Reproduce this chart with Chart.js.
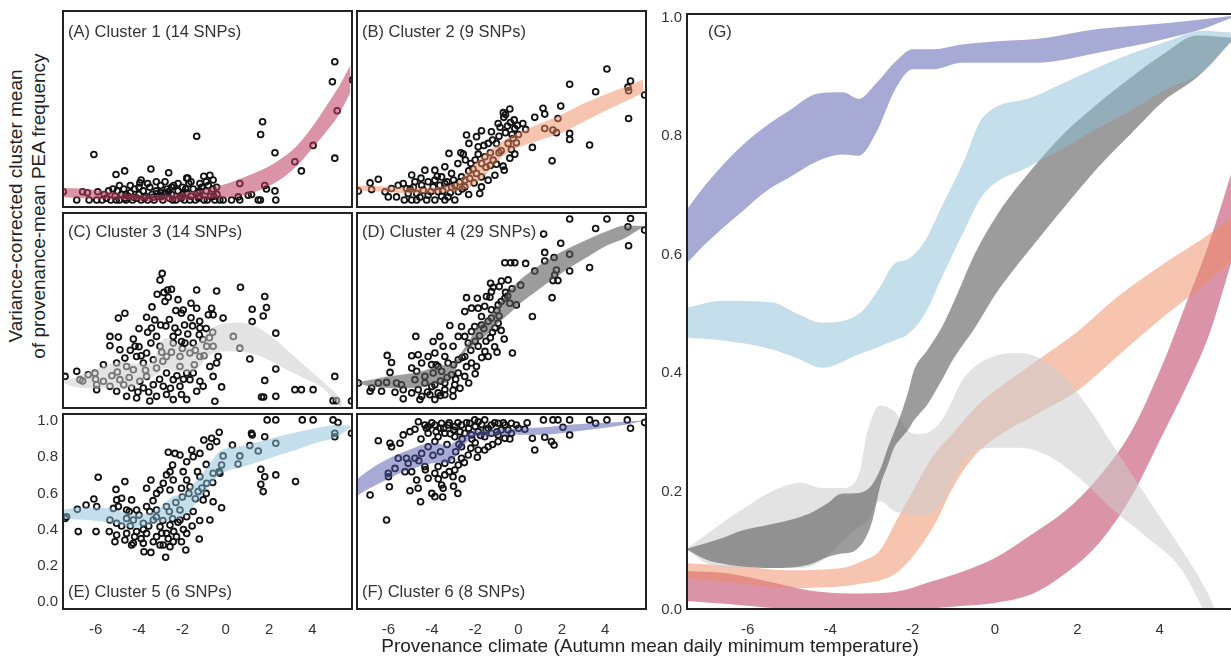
<!DOCTYPE html>
<html>
<head>
<meta charset="utf-8">
<script src="https://cdn.jsdelivr.net/npm/chart.js@4.4.0/dist/chart.umd.min.js"></script>
<style>
  body { margin:0; background:#fff; width:1231px; height:656px; position:relative; overflow:hidden; font-family:"Liberation Sans", Arial, sans-serif; }
  canvas { position:absolute; }
  .lbl { position:absolute; font-size:16.5px; color:#333; white-space:nowrap; line-height:1; }
  .ttl { position:absolute; font-size:19px; color:#222; white-space:nowrap; line-height:1; }
</style>
</head>
<body>
<canvas id="pA"></canvas>
<canvas id="pB"></canvas>
<canvas id="pC"></canvas>
<canvas id="pD"></canvas>
<canvas id="pE"></canvas>
<canvas id="pF"></canvas>
<canvas id="pG"></canvas>

<div class="lbl" style="left:68px;top:23px">(A) Cluster 1 (14 SNPs)</div>
<div class="lbl" style="left:362px;top:23px">(B) Cluster 2 (9 SNPs)</div>
<div class="lbl" style="left:68px;top:223px">(C) Cluster 3 (14 SNPs)</div>
<div class="lbl" style="left:362px;top:223px">(D) Cluster 4 (29 SNPs)</div>
<div class="lbl" style="left:68px;top:583px">(E) Cluster 5 (6 SNPs)</div>
<div class="lbl" style="left:362px;top:583px">(F) Cluster 6 (8 SNPs)</div>
<div class="lbl" style="left:708px;top:23px">(G)</div>

<div class="ttl" style="left:15px;top:206px;transform:translate(-50%,-50%) rotate(-90deg)">Variance-corrected cluster mean</div>
<div class="ttl" style="left:38px;top:206px;transform:translate(-50%,-50%) rotate(-90deg)">of provenance-mean PEA frequency</div>
<div class="ttl" style="left:650px;top:645px;transform:translate(-50%,-50%)">Provenance climate (Autumn mean daily minimum temperature)</div>

<script>
// tick labels
const xTicks = [-6, -4, -2, 0, 2, 4];
const yTicks = [0, 0.2, 0.4, 0.6, 0.8, 1.0];

// fitted bands (upper / lower edge), one per cluster
const band1x  = [-7.5, -6.5, -5.5, -4.5, -3.5, -2.5, -1.5, -0.75, 0, 0.9, 1.7, 2.5, 3.3, 4.1, 4.6, 5.2, 5.75];
const band1up = [0.066, 0.062, 0.048, 0.033, 0.028, 0.03, 0.049, 0.066, 0.088, 0.128, 0.167, 0.223, 0.30, 0.42, 0.51, 0.62, 0.74];
const band1lo = [0.015, 0.01, 0.004, 0.0, -0.005, -0.005, 0.003, 0.007, 0.012, 0.027, 0.061, 0.111, 0.19, 0.30, 0.37, 0.465, 0.59];

const band2x  = [-7.5, -6.2, -5, -3.7, -3.2, -2.8, -2.4, -2.0, -1.5, -1.0, -0.5, 0, 1, 2, 3, 4, 5, 5.75];
const band2up = [0.079, 0.074, 0.067, 0.071, 0.083, 0.10, 0.15, 0.20, 0.26, 0.30, 0.34, 0.37, 0.42, 0.47, 0.53, 0.58, 0.625, 0.662];
const band2lo = [0.054, 0.045, 0.037, 0.04, 0.045, 0.05, 0.062, 0.09, 0.14, 0.21, 0.26, 0.29, 0.33, 0.37, 0.43, 0.49, 0.545, 0.59];

const band3x  = [-7.5, -7, -6.2, -5.4, -4.7, -4.2, -3.7, -3.3, -3.1, -2.8, -2.45, -2.1, -1.8, -1.3, -0.75, 0, 0.6, 1.3, 2.1, 2.9, 3.7, 4.5, 5.1, 5.35];
const band3up = [0.103, 0.128, 0.167, 0.201, 0.215, 0.206, 0.206, 0.23, 0.30, 0.345, 0.336, 0.302, 0.297, 0.319, 0.392, 0.429, 0.434, 0.416, 0.358, 0.274, 0.189, 0.105, 0.037, 0.0];
const band3lo = [0.103, 0.079, 0.071, 0.071, 0.071, 0.083, 0.117, 0.14, 0.15, 0.184, 0.167, 0.162, 0.159, 0.18, 0.252, 0.274, 0.274, 0.26, 0.22, 0.167, 0.122, 0.071, -0.005, -0.04];

const band4x  = [-7.5, -7, -6.6, -6.2, -5.4, -4.5, -4.05, -3.75, -3.4, -3.0, -2.77, -2.6, -2.45, -2.28, -2.1, -1.97, -1.63, -1.3, -1.0, -0.5, 0.07, 0.87, 1.67, 2.5, 3.3, 4.1, 4.9, 5.75];
const band4up = [0.103, 0.113, 0.122, 0.133, 0.145, 0.163, 0.181, 0.196, 0.197, 0.21, 0.24, 0.274, 0.30, 0.331, 0.37, 0.404, 0.44, 0.476, 0.52, 0.60, 0.669, 0.742, 0.804, 0.855, 0.899, 0.939, 0.97, 0.966];
const band4lo = [0.103, 0.085, 0.078, 0.074, 0.071, 0.077, 0.09, 0.095, 0.10, 0.145, 0.213, 0.245, 0.274, 0.29, 0.305, 0.32, 0.348, 0.387, 0.425, 0.475, 0.539, 0.611, 0.679, 0.747, 0.804, 0.86, 0.899, 0.961];

const band5x  = [-7.5, -6.6, -5.4, -4.8, -4.2, -3.3, -2.8, -2.45, -2.1, -1.7, -1.3, -0.75, -0.3, 0.87, 1.67, 2.5, 3.3, 4.1, 5.07, 5.75];
const band5up = [0.51, 0.522, 0.519, 0.50, 0.485, 0.50, 0.544, 0.584, 0.593, 0.623, 0.68, 0.758, 0.831, 0.865, 0.89, 0.916, 0.939, 0.958, 0.978, 0.975];
const band5lo = [0.46, 0.455, 0.44, 0.425, 0.409, 0.432, 0.445, 0.455, 0.466, 0.50, 0.56, 0.64, 0.70, 0.75, 0.78, 0.814, 0.843, 0.877, 0.91, 0.961];

const band6x  = [-7.5, -7, -6.2, -5.5, -5, -4.3, -3.7, -3.3, -2.9, -2.4, -2, -1.5, -0.8, 0, 1, 2.5, 4, 5, 5.75];
const band6up = [0.674, 0.72, 0.78, 0.82, 0.843, 0.872, 0.874, 0.863, 0.888, 0.927, 0.947, 0.947, 0.955, 0.96, 0.964, 0.981, 0.99, 0.997, 1.003];
const band6lo = [0.584, 0.62, 0.669, 0.71, 0.73, 0.758, 0.769, 0.767, 0.804, 0.882, 0.913, 0.913, 0.924, 0.924, 0.924, 0.941, 0.962, 0.98, 1.0];

// provenance points per cluster [climate, frequency]
const ptsA = [[5.03,0.76],[4.92,0.65],[5.14,0.49],[5.03,0.23],[4.03,0.30],[3.19,0.21],[3.49,0.16],[2.27,0.26],[1.70,0.43],[1.61,0.36],
  [-1.34,0.35],[-6.08,0.25],[-3.45,0.17],[-5.06,0.14],[-4.66,0.16],[-2.63,0.15],[0.65,0.09],[1.80,0.08],[1.88,0.06],[2.27,0.05],
  [2.31,0.0],[5.85,0.66],[1.04,0.026],[0.58,0.017],[-7.49,0.045],[-6.87,0.0],[-6.38,0.04],[-6.6,0.045],[-5.9,0.045],[-5.95,0.0],
  [-3.96,0.094],[-3.9,0.11],[-1.8,0.12],[-1.75,0.12],[-1.01,0.13],[-0.73,0.136],[-0.58,0.11],[-1.19,0.09],[-0.42,0.07],[-0.27,0.0],
  [0.27,0.0],[0.65,0.0],[1.5,0.0],[1.6,0.0],[1.19,0.03],[-0.12,0.0],[-6.3,0.0],[-5.7,0.0],[-5.5,0.01],[-5.3,0.0],
  [-5.1,0.02],[-5.0,0.05],[-4.9,0.0],[-4.8,0.03],[-4.7,0.06],[-4.6,0.0],[-4.5,0.02],[-4.4,0.04],[-4.3,0.0],[-4.2,0.06],
  [-4.1,0.01],[-4.0,0.03],[-3.9,0.0],[-3.8,0.05],[-3.7,0.02],[-3.6,0.0],[-3.5,0.07],[-3.4,0.03],[-3.3,0.0],[-3.2,0.05],
  [-3.1,0.02],[-3.0,0.08],[-2.9,0.0],[-2.8,0.04],[-2.7,0.06],[-2.6,0.01],[-2.5,0.03],[-2.4,0.08],[-2.3,0.0],[-2.2,0.05],
  [-2.1,0.02],[-2.0,0.07],[-1.9,0.0],[-1.8,0.04],[-1.7,0.09],[-1.6,0.02],[-1.5,0.06],[-1.4,0.0],[-1.3,0.04],[-1.2,0.02],
  [-1.1,0.07],[-1.0,0.0],[-0.9,0.05],[-0.8,0.08],[-0.7,0.02],[-0.6,0.06],[-0.5,0.0],[-0.4,0.03],[-5.2,0.06],[-4.9,0.08],
  [-4.4,0.08],[-3.6,0.09],[-3.2,0.1],[-2.8,0.1],[-2.2,0.09],[-1.6,0.1],[-0.9,0.1],[-4.0,0.07],[-2.5,0.07],[-3.0,0.04],
  [-2.0,0.03],[-1.2,0.05],[-4.6,0.03],[-5.6,0.03],[-5.4,0.05],[-3.75,0.01],[-3.35,0.015],[-2.95,0.02],[-2.45,0.0],[-2.05,0.01],
  [-1.65,0.0],[-1.25,0.01],[-0.85,0.0],[-0.55,0.02],[-4.25,0.015],[-4.65,0.01],[-5.05,0.0],[-3.15,0.035],[-2.65,0.045],[-1.85,0.06]];

const ptsB = [[4.08,0.72],[2.36,0.636],[5.17,0.654],[5.05,0.62],[5.08,0.6],[5.82,0.577],[3.56,0.595],[5.08,0.448],[1.95,0.516],[1.13,0.504],
  [1.21,0.472],[0.75,0.454],[1.82,0.448],[0.33,0.388],[1.21,0.393],[1.59,0.384],[1.75,0.37],[2.36,0.366],[2.36,0.333],[3.28,0.302],
  [0.64,0.289],[1.55,0.215],[-0.17,0.393],[-0.68,0.454],[-0.37,0.426],[-0.94,0.42],[-0.51,0.406],[-1.25,0.375],[-1.71,0.38],[-2.4,0.357],
  [-1.94,0.348],[-0.25,0.338],[-0.1,0.314],[-0.48,0.311],[-1.02,0.311],[-1.4,0.311],[-1.86,0.292],[-2.29,0.311],[-2.66,0.259],[-2.55,0.252],
  [-3.21,0.256],[-1.86,0.252],[-1.55,0.237],[-1.17,0.219],[-1.02,0.197],[-0.71,0.186],[-0.66,0.164],[-0.17,0.252],[-0.33,0.278],[-3.4,0.182],
  [-3.86,0.164],[-4.32,0.164],[-3.09,0.146],[-3.55,0.127],[-2.63,0.127],[-2.25,0.118],[-1.94,0.146],[-1.71,0.127],[-1.4,0.109],[-1.09,0.136],
  [-2.05,0.094],[-2.48,0.072],[-1.71,0.072],[-1.79,0.035],[-6.85,0.094],[-6.47,0.114],[-7.39,0.05],[-6.78,0.057],[-6.01,0.017],[-5.63,0.017],
  [-5.27,0.0],[-4.93,0.0],[-4.7,0.0],[-4.24,0.0],[-3.86,0.0],[-3.4,0.0],[-2.94,0.0],[-5.55,0.081],[-5.32,0.09],[-4.93,0.137],
  [-4.78,0.1],[-4.47,0.081],[-4.17,0.1],[-3.86,0.109],[-3.4,0.09],[-3.09,0.072],[-2.78,0.045],[-4.7,0.035],[-4.17,0.026],[-3.71,0.045],
  [-3.25,0.017],[-6.16,0.045],[-5.86,0.063],[-5.17,0.063],[-5.09,0.035],[-4.4,0.054],[-3.94,0.072],[-3.63,0.081],[-2.94,0.081],[-2.71,0.1],
  [-2.48,0.109],[-2.2,0.2],[-2.0,0.22],[-1.6,0.3],[-1.3,0.26],[-0.9,0.35],[-0.6,0.37],[-0.3,0.36],[-0.8,0.27],[-1.5,0.18],
  [-2.3,0.16],[-2.8,0.2],[-3.0,0.11],[-3.5,0.05],[-4.5,0.12],[-5.0,0.06],[0.2,0.42],[0.0,0.36],[-0.2,0.44],[-0.4,0.5],
  [-0.7,0.48],[-0.6,0.47],[-4.55,0.015],[-4.05,0.045],[-3.55,0.02],[-3.15,0.04],[-2.6,0.06],[-2.3,0.03],[-4.85,0.07],[-3.75,0.13],
  [-2.1,0.17],[-1.3,0.19],[-0.9,0.26],[-1.2,0.33],[-0.4,0.23],[-1.7,0.2],[-2.45,0.22],[-0.85,0.4],[-0.05,0.41],[-3.3,0.1]];

const ptsC = [[-2.93,0.705],[-3.03,0.668],[-3.16,0.59],[-2.85,0.6],[-2.68,0.613],[-2.5,0.617],[-2.65,0.573],[-1.34,0.613],[-0.42,0.608],[0.68,0.628],
  [1.8,0.577],[1.88,0.516],[1.22,0.507],[1.73,0.47],[1.22,0.439],[2.31,0.375],[1.11,0.232],[2.31,0.177],[1.8,0.114],[-0.19,0.078],
  [5.03,0.136],[3.19,0.063],[3.49,0.063],[4.03,0.063],[1.65,0.022],[1.75,0.022],[2.31,0.026],[4.95,0.002],[5.1,0.002],[5.8,0.0],
  [-0.5,-0.001],[-1.34,0.512],[-1.96,0.503],[-2.04,0.485],[-0.65,0.512],[-0.8,0.476],[-0.58,0.476],[-0.12,0.458],[-1.19,0.403],[-1.53,0.415],
  [-2.34,0.403],[-2.76,0.415],[-3.27,0.448],[-3.42,0.403],[-3.65,0.463],[-4.65,0.485],[-4.95,0.458],[-5.34,0.357],[-4.95,0.353],[-5.34,0.305],
  [-4.26,0.342],[-4.18,0.302],[-4.88,0.283],[-4.65,0.237],[-4.11,0.246],[-3.65,0.265],[-3.19,0.357],[-3.03,0.302],[-2.42,0.357],[-2.42,0.32],
  [-2.04,0.329],[-1.88,0.32],[-1.5,0.32],[-1.22,0.366],[-0.88,0.302],[-0.58,0.302],[-0.35,0.246],[-0.42,0.21],[-0.73,0.191],[0.35,0.357],
  [0.65,0.292],[-6.87,0.164],[-6.72,0.118],[-7.41,0.136],[-6.34,0.145],[-6.03,0.154],[-5.95,0.09],[-5.95,0.063],[-5.64,0.109],[-5.34,0.081],
  [-5.03,0.054],[-4.57,0.026],[-4.11,0.017],[-3.5,0.0],[-3.19,0.026],[-2.73,0.036],[-2.42,0.008],[-2.04,0.036],[-1.8,0.008],[-1.34,0.054],
  [-1.04,0.081],[-0.58,0.136],[-3.96,0.109],[-3.65,0.136],[-4.26,0.173],[-3.19,0.182],[-2.73,0.155],[-2.42,0.118],[-2.11,0.191],[-1.8,0.155],
  [-1.5,0.155],[-1.19,0.109],[-4.57,0.191],[-5.03,0.21],[-5.64,0.2],[-3.8,0.21],[-3.34,0.228],[-2.73,0.246],[-2.11,0.246],[-1.65,0.265],
  [-1.19,0.246],[-4.88,0.118],[-4.34,0.072],[-3.8,0.072],[-3.34,0.09],[-2.88,0.081],[-2.11,0.081],[-1.65,0.118],[-3.0,0.42],[-2.6,0.45],
  [-2.3,0.5],[-1.9,0.42],[-1.6,0.46],[-1.2,0.44],[-0.9,0.4],[-3.6,0.38],[-4.0,0.4],[-4.4,0.28],[-3.9,0.25],[-2.9,0.22],
  [-2.5,0.27],[-2.0,0.29],[-1.4,0.28],[-1.0,0.25],[-0.6,0.38],[-5.0,0.16],[-6.0,0.12],[-6.6,0.11],[-2.8,0.55],[-2.2,0.56],
  [-1.6,0.54],[-3.4,0.52],[-4.45,0.13],[-4.05,0.05],[-3.55,0.05],[-3.05,0.12],[-2.55,0.07],[-2.25,0.14],[-1.95,0.12],[-1.45,0.2],
  [-4.7,0.09],[-5.25,0.14],[-3.7,0.17],[-2.95,0.27],[-2.2,0.38],[-1.75,0.37],[-1.05,0.34],[-0.75,0.35],[-3.45,0.32],[-4.0,0.3]];

const ptsD = [[2.36,1.005],[4.08,1.005],[5.17,1.008],[5.05,0.962],[3.56,0.953],[1.16,0.922],[1.95,0.871],[1.21,0.821],[1.64,0.793],[2.36,0.81],
  [1.21,0.773],[0.75,0.718],[2.36,0.718],[3.28,0.737],[1.75,0.724],[1.67,0.696],[1.82,0.665],[1.59,0.665],[5.08,0.858],[5.82,0.944],
  [-0.63,0.764],[-0.36,0.764],[-0.17,0.764],[0.33,0.76],[1.55,0.571],[0.64,0.467],[-0.48,0.669],[-0.79,0.663],[-1.29,0.65],[-0.89,0.632],
  [-1.17,0.628],[-1.25,0.604],[-2.4,0.571],[-1.9,0.568],[-1.48,0.577],[-1.32,0.573],[-0.63,0.568],[-0.4,0.54],[-0.1,0.531],[-2.48,0.494],
  [-2.17,0.513],[-1.86,0.513],[-1.56,0.523],[-1.25,0.504],[-0.94,0.531],[-1.71,0.467],[-1.25,0.458],[-0.94,0.43],[-1.09,0.403],[-1.71,0.42],
  [-2.02,0.412],[-2.17,0.384],[-2.48,0.357],[-2.63,0.412],[-3.17,0.417],[-0.66,0.342],[-0.99,0.27],[-0.28,0.265],[-4.74,0.357],[-3.94,0.329],
  [-3.63,0.357],[-3.48,0.302],[-3.02,0.302],[-2.78,0.357],[-2.32,0.32],[-1.86,0.302],[-1.55,0.274],[-1.4,0.246],[-6.06,0.252],[-5.86,0.213],
  [-5.93,0.158],[-4.93,0.25],[-4.63,0.256],[-4.17,0.246],[-3.86,0.265],[-3.4,0.246],[-4.47,0.21],[-4.01,0.201],[-3.71,0.191],[-3.25,0.21],
  [-2.78,0.228],[-2.48,0.246],[-2.17,0.21],[-1.94,0.191],[-4.93,0.182],[-4.7,0.164],[-4.32,0.136],[-3.94,0.155],[-3.55,0.164],[-3.09,0.145],
  [-2.78,0.155],[-2.48,0.136],[-6.47,0.1],[-6.09,0.103],[-5.63,0.1],[-5.4,0.09],[-4.78,0.118],[-4.32,0.1],[-3.86,0.09],[-3.4,0.1],
  [-2.94,0.09],[-6.85,0.054],[-6.78,0.072],[-6.32,0.054],[-5.7,0.048],[-5.32,0.063],[-4.93,0.045],[-4.63,0.063],[-4.47,0.026],[-4.09,0.035],
  [-3.71,0.045],[-3.4,0.063],[-3.02,0.026],[-3.02,0.059],[-3.4,0.035],[-5.32,0.012],[-4.55,0.008],[-3.86,0.008],[-7.39,0.1],[-1.0,0.5],
  [-0.8,0.55],[-0.6,0.6],[-1.4,0.44],[-1.2,0.38],[-0.9,0.47],[-2.0,0.33],[-2.2,0.28],[-1.6,0.4],[-0.5,0.58],[-1.8,0.36],
  [-2.6,0.24],[-3.0,0.2],[-2.4,0.19],[-3.6,0.11],[-4.0,0.08],[-3.3,0.13],[-1.3,0.35],[-0.3,0.62],[0.1,0.64],[-4.2,0.05],
  [-3.6,0.03],[-2.7,0.07],[-2.3,0.1],[-2.0,0.15],[-1.7,0.24],[-1.1,0.3],[-0.8,0.39],[-2.9,0.12],[-3.8,0.2],[-1.5,0.33]];

const ptsE = [[1.91,1.006],[2.31,1.006],[3.53,1.006],[4.03,1.006],[4.95,1.006],[5.18,0.991],[5.03,0.932],[5.03,0.913],[5.8,0.932],[-0.3,0.937],
  [1.19,0.932],[1.22,0.923],[1.8,0.913],[0.31,0.867],[1.11,0.864],[1.5,0.834],[2.31,0.877],[0.65,0.807],[0.57,0.762],[-0.12,0.807],
  [-0.19,0.757],[-0.27,0.711],[1.62,0.733],[1.8,0.692],[1.62,0.65],[1.73,0.61],[2.31,0.702],[3.22,0.665],[-1.01,0.895],[-0.65,0.904],
  [-0.42,0.886],[-0.73,0.858],[-1.19,0.821],[-1.57,0.84],[-1.5,0.803],[-1.8,0.775],[-2.11,0.812],[-2.65,0.827],[-2.34,0.821],[-2.45,0.757],
  [-1.96,0.72],[-2.57,0.72],[-2.73,0.702],[-2.88,0.656],[-2.42,0.674],[-1.8,0.674],[-1.19,0.692],[-0.88,0.656],[-0.58,0.711],[-3.45,0.674],
  [-3.65,0.628],[-3.19,0.6],[-3.03,0.619],[-2.57,0.619],[-2.04,0.628],[-1.65,0.637],[-1.27,0.61],[-1.04,0.564],[-0.58,0.554],[-0.19,0.521],
  [-0.73,0.453],[-4.65,0.665],[-5.06,0.622],[-5.88,0.689],[-6.08,0.569],[-6.84,0.512],[-6.44,0.536],[-5.95,0.527],[-7.34,0.471],[-7.41,0.462],
  [-5.03,0.564],[-4.8,0.573],[-4.34,0.564],[-4.11,0.508],[-4.57,0.508],[-5.18,0.517],[-4.95,0.527],[-3.65,0.527],[-3.19,0.508],[-2.73,0.527],
  [-2.11,0.508],[-5.34,0.453],[-5.03,0.435],[-4.57,0.462],[-4.26,0.453],[-3.8,0.435],[-3.34,0.453],[-3.03,0.416],[-2.57,0.425],[-2.11,0.453],
  [-1.8,0.471],[-6.8,0.389],[-5.98,0.389],[-5.37,0.389],[-5.03,0.37],[-4.57,0.379],[-4.11,0.389],[-3.65,0.379],[-3.19,0.361],[-2.73,0.379],
  [-2.27,0.361],[-1.8,0.379],[-1.22,0.348],[-5.11,0.333],[-4.65,0.343],[-4.34,0.315],[-4.26,0.324],[-3.8,0.324],[-3.34,0.333],[-2.88,0.315],
  [-2.42,0.333],[-2.04,0.333],[-3.03,0.315],[-2.57,0.306],[-3.77,0.278],[-3.45,0.274],[-2.77,0.247],[-1.84,0.287],[-3.5,0.5],[-3.2,0.47],
  [-2.9,0.45],[-2.6,0.5],[-2.3,0.55],[-2.0,0.58],[-1.7,0.6],[-1.4,0.57],[-1.1,0.63],[-4.0,0.48],[-4.4,0.42],[-3.8,0.4],
  [-2.2,0.44],[-1.5,0.5],[-1.2,0.45],[-0.9,0.6],[-0.6,0.66],[-0.3,0.72],[-0.9,0.76],[-1.3,0.72],[-4.8,0.42],[-4.2,0.36],
  [-3.55,0.42],[-2.95,0.38],[-2.4,0.39],[-1.95,0.4],[-1.55,0.42],[-3.9,0.35],[-2.65,0.35],[-4.45,0.5],[-3.35,0.56],[-2.45,0.46]];

const ptsF = [[-6.09,0.453],[-6.85,0.591],[-5.96,0.637],[-6.0,0.692],[-6.47,0.891],[-5.93,0.877],[-5.86,0.858],[-5.47,0.877],[-5.32,0.923],[-5.01,0.941],
  [-4.78,0.954],[-4.62,0.996],[-4.32,0.978],[-4.17,0.969],[-3.86,0.978],[-3.55,0.987],[-3.25,0.978],[-2.94,0.969],[-2.63,0.978],[-2.25,0.987],
  [-2.02,1.006],[-1.86,0.996],[-1.56,1.006],[-1.25,0.978],[-0.94,0.987],[-0.63,0.978],[-0.33,0.987],[-0.1,0.978],[1.15,1.006],[1.59,1.006],
  [1.82,1.006],[2.36,1.006],[3.28,1.006],[4.08,1.006],[5.02,1.006],[5.17,0.96],[5.82,0.991],[3.56,0.987],[0.29,0.954],[0.64,0.904],
  [1.21,0.91],[1.52,0.886],[1.64,0.867],[2.36,0.923],[2.05,0.965],[0.75,0.84],[-0.33,0.932],[-0.63,0.904],[-0.94,0.886],[-1.4,0.858],
  [-1.86,0.84],[-1.56,0.84],[-0.94,0.923],[-0.48,0.95],[-4.17,0.932],[-3.71,0.913],[-3.4,0.932],[-2.94,0.913],[-2.48,0.932],[-2.17,0.923],
  [-1.86,0.941],[-1.56,0.913],[-1.25,0.932],[-2.63,0.858],[-2.32,0.812],[-2.63,0.794],[-2.78,0.757],[-2.94,0.729],[-3.02,0.692],[-3.4,0.702],
  [-3.86,0.886],[-4.17,0.858],[-4.47,0.821],[-4.78,0.794],[-5.09,0.766],[-5.24,0.72],[-4.93,0.72],[-4.7,0.674],[-4.63,0.628],[-4.17,0.683],
  [-3.86,0.711],[-3.55,0.646],[-3.48,0.628],[-3.86,0.582],[-4.52,0.554],[-5.01,0.615],[-3.71,0.748],[-3.4,0.766],[-3.09,0.785],[-4.32,0.748],
  [-5.55,0.794],[-5.17,0.794],[-5.7,0.738],[-6.01,0.711],[-3.0,0.95],[-2.8,0.99],[-2.3,0.96],[-2.0,0.97],[-1.7,0.98],[-1.4,0.96],
  [-1.1,0.99],[-0.8,0.95],[-3.6,0.96],[-3.2,0.99],[-2.6,0.9],[-2.0,0.88],[-1.2,0.87],[-0.4,0.9],[0.0,0.96],[0.4,0.99],
  [-3.8,0.94],[-4.5,0.9],[-4.0,0.99],[-2.2,0.85],[-1.9,0.8],[-2.9,0.83],[-3.3,0.87],[-2.5,0.77],[-3.0,0.64],[-2.8,0.6],
  [-3.5,0.58],[-4.0,0.6],[-4.3,0.73],[-3.7,0.68],[-3.15,0.93],[-2.7,0.94],[-2.4,0.99],[-1.5,0.95],[-1.0,0.94],[-0.7,0.99],
  [-3.45,0.96],[-4.25,0.96],[-2.15,0.9],[-1.75,0.92],[-3.6,0.83],[-2.75,0.87],[-3.2,0.72],[-2.6,0.68],[-4.6,0.78],[-3.95,0.81]];

const colC1 = 'rgba(190,60,95,0.55)';
const colC2 = 'rgba(239,138,98,0.5)';
const colC3 = 'rgba(204,204,204,0.55)';
const colC4 = 'rgba(90,90,90,0.6)';
const colC5 = 'rgba(140,190,215,0.5)';
const colC6 = 'rgba(80,85,170,0.5)';

const tickFont = { family: 'Liberation Sans', size: 15 };

const framePlugin = {
  id: 'frame',
  afterDraw(chart, args, opts) {
    const a = chart.chartArea, ctx = chart.ctx;
    ctx.save();
    ctx.strokeStyle = '#222';
    ctx.lineWidth = 2;
    ctx.beginPath();
    if (opts.openRight) {
      ctx.moveTo(a.right + 2, a.top + 1);
      ctx.lineTo(a.left + 1, a.top + 1);
      ctx.lineTo(a.left + 1, a.bottom - 1);
      ctx.lineTo(a.right + 2, a.bottom - 1);
    } else {
      ctx.rect(a.left + 1, a.top + 1, a.width - 2, a.height - 2);
    }
    ctx.stroke();
    ctx.restore();
  }
};

function bandSets(xs, up, lo, color) {
  var base = { showLine: true, pointRadius: 0, borderWidth: 0, borderColor: 'rgba(0,0,0,0)', cubicInterpolationMode: 'monotone', order: 1 };
  return [
    Object.assign({}, base, { data: xs.map((x, i) => ({ x: x, y: lo[i] })), fill: false }),
    Object.assign({}, base, { data: xs.map((x, i) => ({ x: x, y: up[i] })), fill: '-1', backgroundColor: color })
  ];
}

function pointSet(pts) {
  return {
    data: pts.map(p => ({ x: p[0], y: p[1] })),
    pointRadius: 2.9, pointBorderWidth: 1.8, pointBorderColor: '#111', pointBackgroundColor: 'rgba(0,0,0,0)',
    showLine: false, order: 2
  };
}

function xScale(min, max, show) {
  return {
    type: 'linear', min: min, max: max, display: show,
    grid: { display: false, drawTicks: false }, border: { display: false },
    ticks: { padding: 11, color: '#333', font: tickFont, maxRotation: 0, autoSkip: false, callback: v => String(v) },
    afterBuildTicks: s => { s.ticks = xTicks.map(v => ({ value: v })); },
    afterFit: s => { s.height = show ? 30 : 0; }
  };
}

function yScale(min, max, show, w) {
  return {
    type: 'linear', min: min, max: max, display: show,
    grid: { display: false, drawTicks: false }, border: { display: false },
    ticks: { padding: 4, color: '#333', font: tickFont, callback: v => v.toFixed(1) },
    afterBuildTicks: s => { s.ticks = yTicks.map(v => ({ value: v })); },
    afterFit: s => { s.width = show ? w : 0; }
  };
}

function makeChart(id, box, datasets, scales, pad, openRight) {
  var cv = document.getElementById(id);
  cv.width = box.w; cv.height = box.h;
  cv.style.left = box.x + 'px';
  cv.style.top = box.y + 'px';
  return new Chart(cv, {
    type: 'scatter',
    data: { datasets: datasets },
    options: {
      responsive: false, animation: false, devicePixelRatio: 1, events: [],
      layout: { padding: pad, autoPadding: false },
      scales: scales,
      plugins: { legend: { display: false }, tooltip: { enabled: false }, frame: { openRight: !!openRight } }
    },
    plugins: [framePlugin]
  });
}

const loL = -7.55, hiL = 5.87, loR = -7.5, hiR = 5.93, yLo = -0.044, yHi = 1.044;
const noPad = { top: 0, left: 0, right: 0, bottom: 0 };

makeChart('pA', { x: 62, y: 10, w: 291, h: 198 },
  [pointSet(ptsA)].concat(bandSets(band1x, band1up, band1lo, colC1)),
  { x: xScale(loL, hiL, false), y: yScale(yLo, yHi, false, 0) }, noPad);
makeChart('pB', { x: 356, y: 10, w: 291, h: 198 },
  [pointSet(ptsB)].concat(bandSets(band2x, band2up, band2lo, colC2)),
  { x: xScale(loR, hiR, false), y: yScale(yLo, yHi, false, 0) }, noPad);
makeChart('pC', { x: 62, y: 212, w: 291, h: 197 },
  [pointSet(ptsC)].concat(bandSets(band3x, band3up, band3lo, colC3)),
  { x: xScale(loL, hiL, false), y: yScale(yLo, yHi, false, 0) }, noPad);
makeChart('pD', { x: 356, y: 212, w: 291, h: 197 },
  [pointSet(ptsD)].concat(bandSets(band4x, band4up, band4lo, colC4)),
  { x: xScale(loR, hiR, false), y: yScale(yLo, yHi, false, 0) }, noPad);
makeChart('pE', { x: 0, y: 400, w: 353, h: 240 },
  [pointSet(ptsE)].concat(bandSets(band5x, band5up, band5lo, colC5)),
  { x: xScale(loL, hiL, true), y: yScale(yLo, yHi, true, 62) }, { top: 13, left: 0, right: 0, bottom: 0 });
makeChart('pF', { x: 356, y: 413, w: 291, h: 227 },
  [pointSet(ptsF)].concat(bandSets(band6x, band6up, band6lo, colC6)),
  { x: xScale(loR, hiR, true), y: yScale(yLo, yHi, false, 0) }, noPad);

makeChart('pG', { x: 640, y: 0, w: 591, h: 640 },
  [].concat(
    bandSets(band6x, band6up, band6lo, colC6),
    bandSets(band5x, band5up, band5lo, colC5),
    bandSets(band4x, band4up, band4lo, colC4),
    bandSets(band3x, band3up, band3lo, colC3),
    bandSets(band2x, band2up, band2lo, colC2),
    bandSets(band1x, band1up, band1lo, colC1)
  ),
  { x: xScale(-7.5, 5.73, true), y: yScale(0, 1.008, true, 46) }, { top: 12, left: 0, right: 0, bottom: 0 }, true);
</script>
</body>
</html>
